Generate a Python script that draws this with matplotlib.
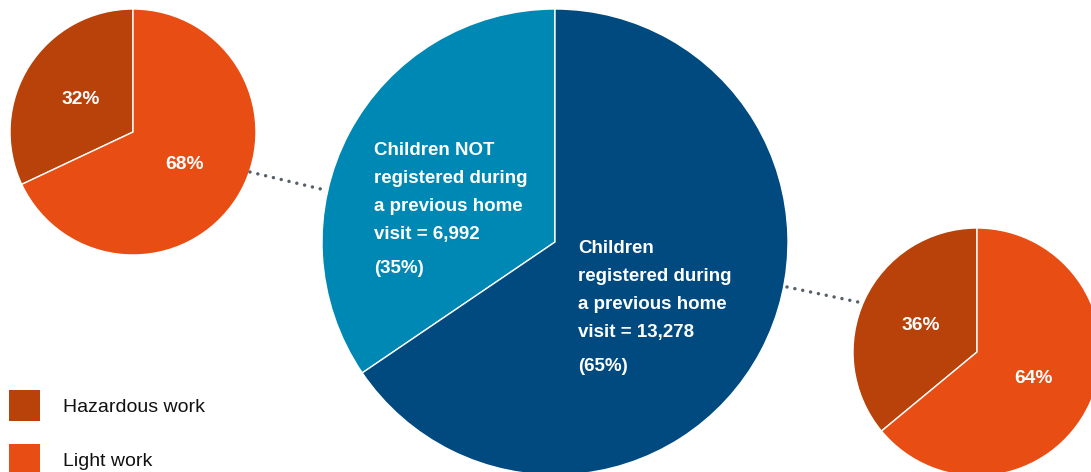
import matplotlib
matplotlib.use("Agg")
import matplotlib.pyplot as plt
from matplotlib.patches import Rectangle

plt.rcParams['font.family'] = ['Liberation Sans', 'DejaVu Sans']

# registration split (main pie)
reg_labels = ['Children NOT\nregistered during\na previous home\nvisit', 'Children\nregistered during\na previous home\nvisit']
reg_counts = [6992, 13278]
reg_pct = [35, 65]

# work type split for each group (small pies)
work_labels = ['Hazardous work', 'Light work']
work_not_registered = [32, 68]
work_registered = [36, 64]

c_hazard = '#b8420a'
c_light = '#e84e14'
c_not_reg = '#0088b5'
c_reg = '#004a80'
dot_color = '#56616a'

W, H = 1091, 472
fig = plt.figure(figsize=(W / 100, H / 100), dpi=100)
ax = fig.add_axes([0, 0, 1, 1])

wedge_kw = dict(edgecolor='white', linewidth=1.0)
pct_kw = dict(color='white', fontsize=13.8, fontweight='bold')

# small pie, not registered
ax.pie(work_not_registered, colors=[c_hazard, c_light], startangle=90,
       center=(133, H - 132), radius=123, wedgeprops=wedge_kw,
       autopct='%d%%', pctdistance=0.5, textprops=pct_kw, frame=True)

# small pie, registered
ax.pie(work_registered, colors=[c_hazard, c_light], startangle=90,
       center=(977, H - 352), radius=124, wedgeprops=wedge_kw,
       autopct='%d%%', pctdistance=0.5, textprops=pct_kw, frame=True)

# main pie
ax.pie(reg_counts, colors=[c_not_reg, c_reg], startangle=90,
       center=(555, H - 242), radius=233, wedgeprops=wedge_kw, frame=True)

text_pos = [(374, 155), (578, 253)]
for lab, n, pct, (x, y0) in zip(reg_labels, reg_counts, reg_pct, text_pos):
    lines = lab.split('\n')
    lines[-1] = lines[-1] + ' = {:,}'.format(n)
    for i, line in enumerate(lines):
        ax.text(x, H - (y0 + i * 28), line, color='white', fontsize=13.5,
                fontweight='bold', ha='left', va='baseline')
    ax.text(x, H - (y0 + 3 * 28 + 34), '({}%)'.format(pct), color='white',
            fontsize=13.5, fontweight='bold', ha='left', va='baseline')

# dotted connectors
ax.plot([250, 325], [H - 172, H - 190], color=dot_color, lw=2.5,
        linestyle=(0, (0.01, 2.3)), dash_capstyle='round')
ax.plot([787, 858], [H - 287, H - 302], color=dot_color, lw=2.5,
        linestyle=(0, (0.01, 2.3)), dash_capstyle='round')

# legend
for i, (lab, col) in enumerate(zip(work_labels, [c_hazard, c_light])):
    top = 390 + i * 54
    ax.add_patch(Rectangle((9, H - top - 31), 31, 31, facecolor=col, edgecolor='none'))
    ax.text(63, H - top - 18, lab, fontsize=14, color='#111111', ha='left', va='center')

ax.set_xlim(0, W)
ax.set_ylim(0, H)
ax.set_aspect('auto')
ax.axis('off')

fig.savefig('out.png', dpi=100)
